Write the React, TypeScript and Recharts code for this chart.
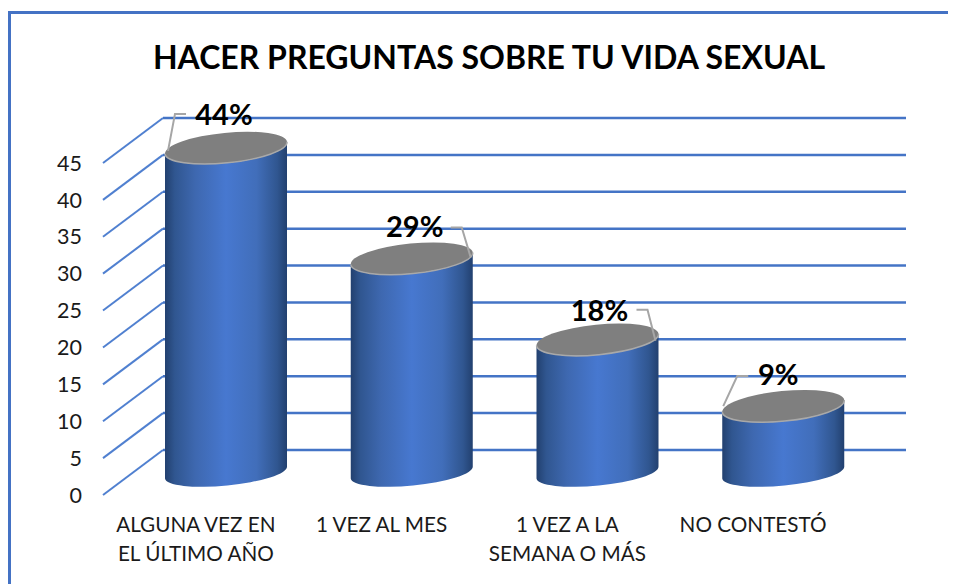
import { Bar, BarChart, CartesianGrid, LabelList, XAxis, YAxis } from "recharts";

const categories = ["ALGUNA VEZ EN|EL ÚLTIMO AÑO", "1 VEZ AL MES", "1 VEZ A LA|SEMANA O MÁS", "NO CONTESTÓ"];
const heights = [44, 29, 18, 9];
const percentLabels = ["44%", "29%", "18%", "9%"];
const yTicks = [0, 5, 10, 15, 20, 25, 30, 35, 40, 45];

const data = categories.map((name, i) => ({ name, value: heights[i], label: percentLabels[i] }));

const FONT = "Lato, sans-serif";
// pseudo 3d: bars sit halfway into the floor, the wall is the full depth
const DEPTH_X = 60;
const DEPTH_Y = 45;
const RX = 61;
const RY = 15;
const RY_BOTTOM = 13;
const TILT = -5.6;
const TIP_Y = 6;

// label offset + leader line, relative to the centre of the cylinder top
const labelLayout = [
  { dx: -2, dy: -33, leader: [[-58, 3], [-51, -34], [-40, -34]] },
  { dx: 3, dy: -32, leader: [[59, -1], [50, -31], [39, -31]] },
  { dx: 2, dy: -29, leader: [[58, 1], [50, -30], [39, -30]] },
  { dx: -5, dy: -31, leader: [[-60, 0], [-46, -30], [-35, -30]] },
];

const GridLine = (props: any) => {
  const { x1, x2, y1 } = props;
  return (
    <g>
      <line x1={x1} y1={y1} x2={x1 + DEPTH_X} y2={y1 - DEPTH_Y} stroke="#5080d0" strokeWidth={2} />
      <line x1={x1 + DEPTH_X} y1={y1 - DEPTH_Y} x2={x2 + DEPTH_X} y2={y1 - DEPTH_Y} stroke="#4474c6" strokeWidth={2.5} />
    </g>
  );
};

const Cylinder = (props: any) => {
  const { x, y, width, height } = props;
  const l = x + DEPTH_X / 2;
  const r = l + width;
  const topC = y - DEPTH_Y / 2;
  const botC = topC + height;
  const arc = (ry: number, sweep: number, px: number, py: number) => `A${RX} ${ry} ${TILT} 0 ${sweep} ${px} ${py}`;
  return (
    <g>
      <path
        d={`M${l} ${topC + TIP_Y} L${l} ${botC + TIP_Y} ${arc(RY_BOTTOM, 0, r, botC - TIP_Y)} L${r} ${topC - TIP_Y} ${arc(RY, 1, l, topC + TIP_Y)}Z`}
        fill="url(#cylinderFill)"
      />
      <path d={`M${l} ${topC + TIP_Y} ${arc(RY, 1, r, topC - TIP_Y)} ${arc(RY, 1, l, topC + TIP_Y)}Z`} fill="#7f7f7f" />
      <path d={`M${l} ${topC + TIP_Y} ${arc(RY, 0, r, topC - TIP_Y)}`} fill="none" stroke="#a9a9a9" strokeWidth={1.5} />
    </g>
  );
};

const PercentLabel = (props: any) => {
  const { x, y, width, index, value } = props;
  const cx = x + DEPTH_X / 2 + width / 2;
  const cy = y - DEPTH_Y / 2;
  const { dx, dy, leader } = labelLayout[index];
  return (
    <g>
      <polyline
        points={leader.map(([a, b]: number[]) => `${cx + a},${cy + b}`).join(" ")}
        fill="none"
        stroke="#a6a6a6"
        strokeWidth={2}
      />
      <text x={cx + dx} y={cy + dy} dy="0.35em" textAnchor="middle" fontFamily={FONT} fontWeight={700} fontSize={29} fill="#000">
        {value}
      </text>
    </g>
  );
};

const CategoryTick = (props: any) => {
  const { x, y, payload } = props;
  const lines = String(payload.value).split("|");
  return (
    <text textAnchor="middle" fontFamily={FONT} fontSize={20.7} fill="#1a1a1a">
      {lines.map((s, i) => (
        <tspan key={i} x={x} y={y + 29 + i * 29}>
          {s}
        </tspan>
      ))}
    </text>
  );
};

export default function App() {
  return (
    <div style={{ position: "relative", width: 948, height: 576, background: "#fff" }}>
      <div
        style={{
          position: "absolute",
          left: 0,
          top: 3,
          width: 948,
          height: 573,
          boxSizing: "border-box",
          borderLeft: "3px solid #4472c4",
          borderTop: "3px solid #4472c4",
        }}
      />
      <BarChart
        width={948}
        height={576}
        data={data}
        barSize={122}
        margin={{ top: 155, right: 110, bottom: 59, left: 55 }}
        style={{ position: "absolute", left: 0, top: 0 }}
      >
        <defs>
          <linearGradient id="cylinderFill" x1="0" y1="0" x2="1" y2="0">
            <stop offset="0%" stopColor="#22406f" />
            <stop offset="8%" stopColor="#305690" />
            <stop offset="25%" stopColor="#3e68b0" />
            <stop offset="50%" stopColor="#4778d0" />
            <stop offset="75%" stopColor="#416eba" />
            <stop offset="92%" stopColor="#305690" />
            <stop offset="100%" stopColor="#22406f" />
          </linearGradient>
        </defs>
        <text x={481} y={50} dy="0.35em" textAnchor="middle" fontFamily={FONT} fontWeight={700} fontSize={32} fill="#000">
          HACER PREGUNTAS SOBRE TU VIDA SEXUAL
        </text>
        <CartesianGrid vertical={false} horizontal={(p: any) => <GridLine key={p.key} {...p} />} />
        <XAxis dataKey="name" axisLine={false} tickLine={false} interval={0} tick={CategoryTick} />
        <YAxis
          width={40}
          domain={[0, 45]}
          ticks={yTicks}
          interval={0}
          axisLine={false}
          tickLine={false}
          tick={{ fill: "#1a1a1a", fontSize: 21.5, fontFamily: FONT, dx: -13 }}
        />
        <Bar dataKey="value" shape={Cylinder} isAnimationActive={false}>
          <LabelList dataKey="label" content={PercentLabel} />
        </Bar>
      </BarChart>
    </div>
  );
}
